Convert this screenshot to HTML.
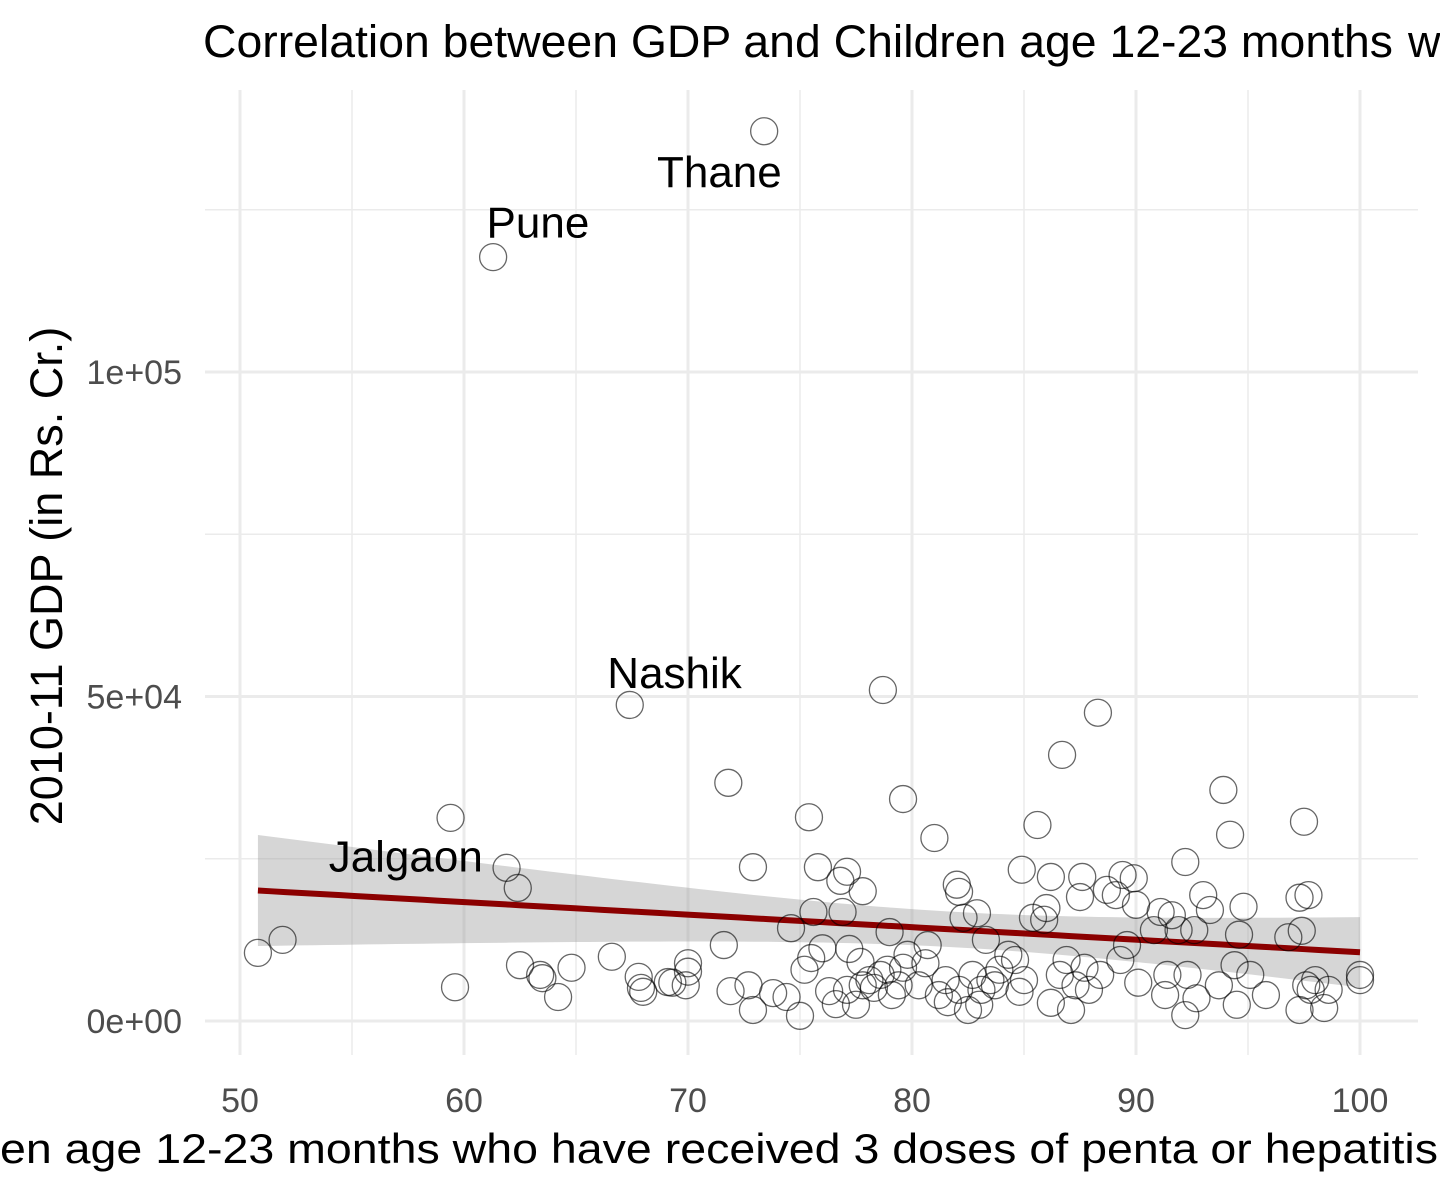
<!DOCTYPE html>
<html><head><meta charset="utf-8"><style>
html,body{margin:0;padding:0;background:#fff;}
svg{display:block;font-family:"Liberation Sans",Arial,sans-serif;}
</style></head><body>
<svg id="chart" width="1440" height="1195" viewBox="0 0 1440 1195">
<g id="grid"></g>
<g id="fit"></g>
<g id="points"></g>
<g id="labels"></g>
<g id="axes"></g>
<g>
<text x="203" y="57" font-size="45" fill="#000" textLength="1190" lengthAdjust="spacingAndGlyphs">Correlation between GDP and Children age 12-23 months</text>
<text x="1408" y="57" font-size="45" fill="#000">who have received 3 doses of penta or hepatitis B vaccine</text>
</g>
<g>
<text x="0" y="1163" font-size="42" fill="#000" textLength="1438" lengthAdjust="spacingAndGlyphs">en age 12-23 months who have received 3 doses of penta or hepatitis</text>
<text x="1452" y="1163" font-size="42" fill="#000">B vaccine (%)</text>
</g>
<text transform="translate(62,576) rotate(-90)" text-anchor="middle" font-size="45" fill="#000">2010-11 GDP (in Rs. Cr.)</text>
</svg>
<script>
const xs=[50.8,51.9,59.4,59.6,61.3,61.9,62.4,62.5,63.4,63.5,64.2,64.8,66.6,67.4,67.8,67.9,68.0,69.1,69.3,69.9,70.0,70.0,71.6,71.8,71.9,72.7,72.9,72.9,73.4,73.8,74.4,74.6,75.0,75.2,75.4,75.5,75.6,75.8,76.0,76.3,76.6,76.8,76.9,77.1,77.1,77.2,77.5,77.8,77.7,77.8,78.1,78.3,78.6,78.7,78.9,79.0,79.1,79.4,79.6,79.6,79.8,80.3,80.6,80.7,81.0,81.2,81.5,81.6,82.0,82.1,82.1,82.3,82.5,82.7,82.9,83.0,83.1,83.3,83.5,83.7,83.9,84.3,84.6,84.8,84.9,85.0,85.4,85.6,85.9,86.0,86.2,86.2,86.6,86.7,86.9,87.1,87.3,87.5,87.6,87.7,87.9,88.3,88.4,88.7,89.1,89.3,89.4,89.6,89.9,90.0,90.1,90.8,91.1,91.3,91.4,91.6,91.9,92.2,92.2,92.3,92.6,92.7,93.0,93.3,93.7,93.9,94.2,94.4,94.5,94.6,94.8,95.1,95.8,96.8,97.3,97.3,97.4,97.5,97.6,97.7,97.8,98.0,98.4,98.6,100.0,100.0];
const gdpK=[10.5,12.5,31.3,5.2,117.7,23.6,20.5,8.6,7.1,6.6,3.7,8.2,9.9,48.7,6.8,5.1,4.5,6.0,5.9,5.5,7.6,8.9,11.7,36.7,4.6,5.5,23.7,1.7,137.1,4.3,3.7,14.3,0.8,7.9,31.4,9.7,16.8,23.7,11.2,4.6,2.6,21.6,16.8,23.0,4.8,11.1,2.5,20.0,9.1,5.5,6.3,5.1,7.1,51.0,7.9,13.7,4.0,5.5,34.2,8.2,10.2,5.5,8.9,11.7,28.2,4.0,6.3,2.9,21.0,19.9,4.8,15.9,1.7,7.1,16.6,2.5,4.8,12.5,6.3,5.5,7.9,10.2,9.4,4.5,23.3,6.3,15.9,30.2,15.6,17.4,22.2,2.8,7.1,41.0,9.4,1.7,5.5,19.1,22.2,8.2,4.8,47.5,7.1,20.2,19.4,9.4,22.5,11.7,22.0,17.9,5.9,14.0,16.8,4.0,7.1,16.3,14.0,24.5,0.9,7.1,14.0,3.5,19.4,17.1,5.5,35.6,28.7,8.6,2.5,13.3,17.6,7.1,4.0,12.9,19.0,1.7,13.9,30.7,5.5,19.4,4.8,6.3,2.0,4.8,6.3,7.1];
const labelNames=["Thane","Pune","Nashik","Jalgaon"];
const labelX=[71.4,63.3,69.4,57.4];
const labelY=[128.5,120.7,51.3,23.0];
const xTicks=[50,60,70,80,90,100];
const yTicks=[0,50000,100000];
const yTickText=["0e+00","5e+04","1e+05"];

const NS="http://www.w3.org/2000/svg";
const X=v=>240+(v-50)*22.4;
const Y=v=>1021-v*0.00649;
function mk(tag,attrs,parent){const e=document.createElementNS(NS,tag);for(const k in attrs)e.setAttribute(k,attrs[k]);parent.appendChild(e);return e;}
const grid=document.getElementById('grid');
const L=205,R=1418,T=90,B=1055;
for(let v=50;v<=100;v+=5){
  const l=mk('line',{x1:X(v),x2:X(v),y1:T,y2:B,stroke:'#ebebeb','stroke-width':v%10===0?3:1.5},grid);
  
  
}
for(let v=-25000;v<=125000;v+=25000){
  if(Y(v)<T||Y(v)>B)continue;
  const l=mk('line',{x1:L,x2:R,y1:Y(v),y2:Y(v),stroke:'#ebebeb','stroke-width':v%50000===0?3:1.5},grid);
  
  
}
const n=xs.length;const ys=gdpK.map(v=>v*1000);
const mx=xs.reduce((a,b)=>a+b)/n,my=ys.reduce((a,b)=>a+b)/n;
let sxx=0,sxy=0;for(let i=0;i<n;i++){sxx+=(xs[i]-mx)**2;sxy+=(xs[i]-mx)*(ys[i]-my);}
const b1=sxy/sxx,b0=my-b1*mx;
let sse=0;for(let i=0;i<n;i++){sse+=(ys[i]-b0-b1*xs[i])**2;}
const s=Math.sqrt(sse/(n-2));
const x0=Math.min(...xs),x1=Math.max(...xs);
const up=[],lo=[],mid=[];
for(let k=0;k<=80;k++){const x=x0+(x1-x0)*k/80;const f=b0+b1*x;const se=s*Math.sqrt(1/n+(x-mx)**2/sxx)*1.976;
  up.push(X(x)+','+Y(f+se));lo.unshift(X(x)+','+Y(f-se));mid.push(X(x)+','+Y(f));}
const fit=document.getElementById('fit');
const rib=mk('polygon',{points:up.concat(lo).join(' '),fill:'#999','fill-opacity':0.4},fit);


const ln=mk('polyline',{points:mid.join(' '),fill:'none',stroke:'#8b0000','stroke-width':6},fit);


const pts=document.getElementById('points');
for(let i=0;i<n;i++){
  const c=mk('circle',{cx:X(xs[i]),cy:Y(ys[i]),r:13.5,fill:'none',stroke:'#000','stroke-opacity':0.6,'stroke-width':1.3},pts);
  
  
}
const lab=document.getElementById('labels');
for(let i=0;i<labelNames.length;i++){
  const t=mk('text',{x:X(labelX[i]),y:Y(labelY[i]*1000),'text-anchor':'middle','font-size':44,fill:'#000'},lab);
  t.textContent=labelNames[i];
  
  
}
const ax=document.getElementById('axes');
xTicks.forEach(v=>{const t=mk('text',{x:X(v),y:1112,'text-anchor':'middle','font-size':34,fill:'#4d4d4d'},ax);t.textContent=v;
  
  });
yTicks.forEach((v,i)=>{const t=mk('text',{x:182,y:Y(v)+12,'text-anchor':'end','font-size':34,fill:'#4d4d4d'},ax);t.textContent=yTickText[i];
  
  });
</script>
</body></html>
